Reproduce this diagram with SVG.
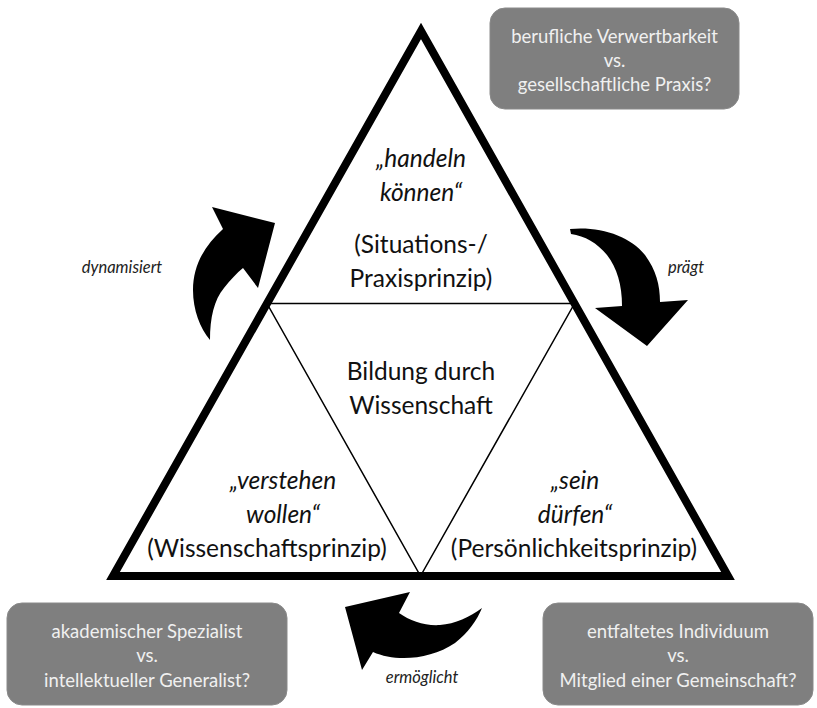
<svg xmlns="http://www.w3.org/2000/svg" width="817" height="708" viewBox="0 0 817 708">
<style>
.t{font-family:Lato,"Open Sans","Liberation Sans",sans-serif;font-size:24.5px;fill:#111;text-anchor:middle}
.i{font-style:italic}
.lab{font-family:Lato,"Open Sans","Liberation Sans",sans-serif;font-size:16.5px;font-style:italic;fill:#222;text-anchor:middle}
.box{fill:#7f7f7f;stroke:#8a8a8a;stroke-width:1}
.bt{font-family:Lato,"Open Sans","Liberation Sans",sans-serif;font-size:18.5px;fill:#f0f0f0;text-anchor:middle}
.arr{fill:#000}
</style>
<rect width="817" height="708" fill="#fff"/>
<g id="triangle">
<polygon points="421,31 113,576 728,576" fill="none" stroke="#000" stroke-width="8" stroke-linejoin="miter"/>
<polygon points="267,303.5 574.5,303.5 420.5,576" fill="none" stroke="#000" stroke-width="1.5"/>
</g>
<g id="node-top">
<text class="t i" x="421" y="167">„handeln</text>
<text class="t i" x="421" y="201">können“</text>
<text class="t" x="421" y="253">(Situations-/</text>
<text class="t" x="421" y="287">Praxisprinzip)</text>
</g>
<g id="node-center">
<text class="t" x="421" y="380">Bildung durch</text>
<text class="t" x="421" y="414">Wissenschaft</text>
</g>
<g id="node-left">
<text class="t i" x="283" y="489">„verstehen</text>
<text class="t i" x="283" y="523">wollen“</text>
<text class="t" x="267" y="557">(Wissenschaftsprinzip)</text>
</g>
<g id="node-right">
<text class="t i" x="575" y="489">„sein</text>
<text class="t i" x="575" y="523">dürfen“</text>
<text class="t" x="574" y="557">(Persönlichkeitsprinzip)</text>
</g>
<g id="box-top">
<rect class="box" x="490" y="8" width="249" height="101" rx="15"/>
<text class="bt" x="614.5" y="43">berufliche Verwertbarkeit</text>
<text class="bt" x="614.5" y="67">vs.</text>
<text class="bt" x="614.5" y="91">gesellschaftliche Praxis?</text>
</g>
<g id="box-left">
<rect class="box" x="7" y="603" width="280" height="102" rx="15"/>
<text class="bt" x="147" y="638">akademischer Spezialist</text>
<text class="bt" x="147" y="662">vs.</text>
<text class="bt" x="147" y="687">intellektueller Generalist?</text>
</g>
<g id="box-right">
<rect class="box" x="543" y="603" width="270" height="102" rx="15"/>
<text class="bt" x="678" y="638">entfaltetes Individuum</text>
<text class="bt" x="678" y="662">vs.</text>
<text class="bt" x="678" y="687">Mitglied einer Gemeinschaft?</text>
</g>
<g id="connectors">
<path class="arr" d="M212,207 L223,229 C205,245 193,265 193,290 C193,310 200,328 210,340 C210,318 214,300 224,288 C230,280 237,273 243,268 L258,288 L275,223 Z"/>
<path class="arr" d="M570,229 C600,226 630,236 645,255 C656,270 660,285 660,302 L688,300 L647,346 L595,308 L622,306 C622,285 617,268 607,255 C597,243 585,236 571,234 Z"/>
<path class="arr" d="M410,592 L345,607 L362,670 L373,652 C395,662 430,660 455,643 C468,633 477,620 482,608 C470,617 455,624 440,625 C425,626 410,621 399,613 Z"/>
<text class="lab" x="122" y="273">dynamisiert</text>
<text class="lab" x="686" y="273">prägt</text>
<text class="lab" x="422" y="683">ermöglicht</text>
</g>
</svg>
